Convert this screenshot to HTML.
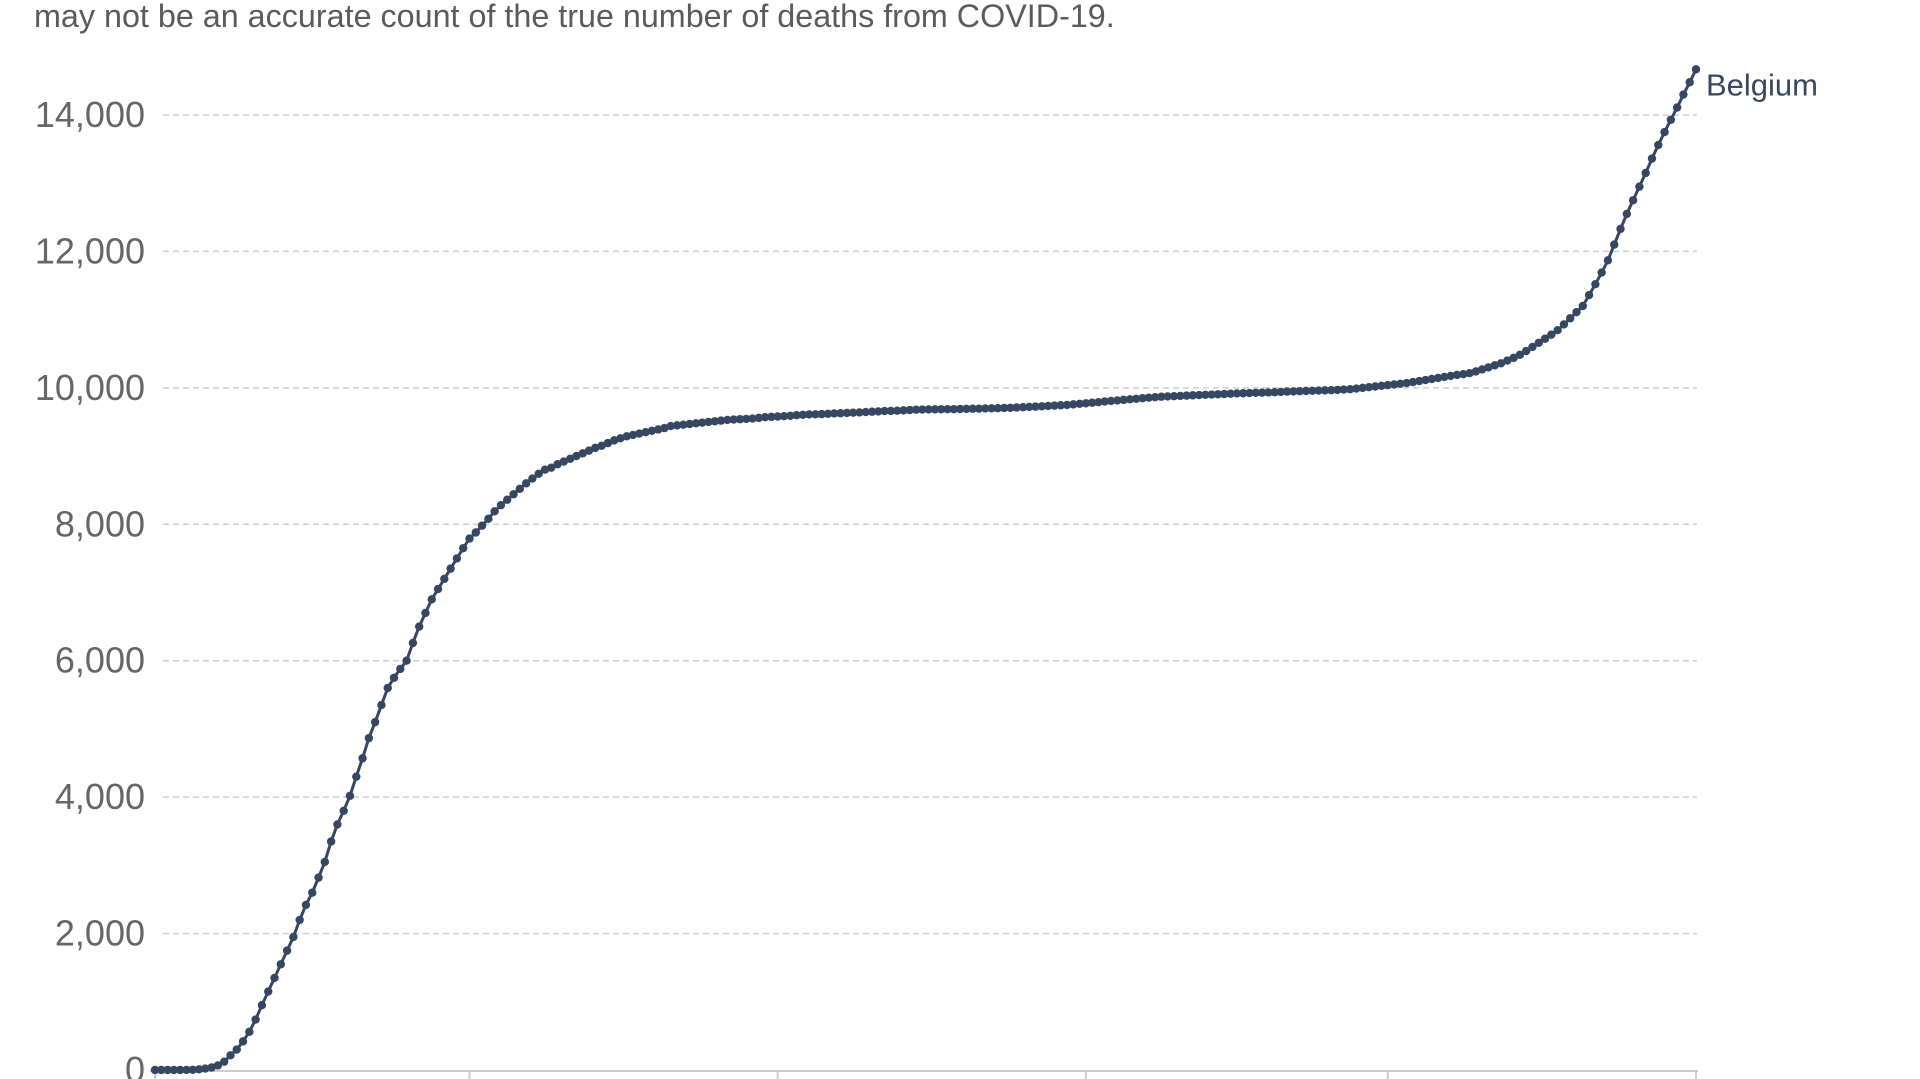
<!DOCTYPE html>
<html><head><meta charset="utf-8">
<style>
html,body{margin:0;padding:0;background:#fff;width:1920px;height:1079px;overflow:hidden}
svg{display:block}
text{font-family:"Liberation Sans",Arial,sans-serif}
</style></head>
<body>
<svg id="chart" width="1920" height="1079" viewBox="0 0 1920 1079">
<text x="34" y="27" font-size="32.3" fill="#5b5b5b">may not be an accurate count of the true number of deaths from COVID-19.</text>
<g id="grid"></g>
<g id="yticks"></g>
<g id="xaxis"></g>
<g id="series"></g>
</svg>
<script>
const yTickValues=[0,2000,4000,6000,8000,10000,12000,14000];
const yTickLabels=["0","2,000","4,000","6,000","8,000","10,000","12,000","14,000"];
const xTickDays=[0,50,99,148,196,245];
const seriesName="Belgium";
const deaths=[0,0,0,0,0,1,3,
10,21,37,67,122,215,
300,420,560,740,950,
1150,1350,1550,1750,1950,
2200,2420,2600,2820,3050,3350,3600,3800,4020,4300,4570,4865,
5100,5350,5600,5750,5880,6000,
6260,6500,6700,6900,7050,7200,7350,
7500,7650,7790,7880,7980,8080,8190,8280,
8360,8440,8520,8600,8670,8740,8800,8830,
8880,8920,8960,9000,9040,9080,9120,9150,9190,9230,
9260,9290,9310,9330,9350,9370,9390,9410,9440,
9450,9460,9470,9480,9490,9500,9510,9520,9530,9535,
9540,9545,9550,9560,9570,9575,9580,9585,9590,9600,
9605,9610,9612,9615,9620,9625,9628,9632,9636,9640,
9645,9650,9655,9660,9662,9665,9670,9675,9680,
9682,9684,9685,9686,9687,9688,9690,9692,9694,9695,
9698,9700,9702,9705,9708,9712,9716,9720,9725,9730,
9735,9740,9745,9750,9758,9766,9774,9782,9790,9800,
9808,9816,9824,9832,9840,9848,9856,9863,9870,
9874,9878,9882,9886,9890,9894,9898,9902,9906,9910,
9914,9918,9921,9924,9927,9930,9933,9936,9940,9945,
9948,9951,9954,9957,9960,9963,9966,9970,9975,9980,
9990,10000,10010,10020,10030,10040,10050,10060,10070,
10085,10100,10115,10130,10145,10160,10175,10190,10200,10215,
10240,10270,10300,10330,10360,10400,10440,10485,
10540,10600,10660,10720,10780,10845,
10930,11020,11110,11200,11360,11520,11690,11870,
12100,12330,12550,12750,12950,13150,13360,
13560,13750,13930,14110,14300,14480,14670];

const NS="http://www.w3.org/2000/svg";
const X0=155,X1=1696,Y0=1070,Y14=115;
const maxDay=deaths.length-1;
function x(d){return X0+(X1-X0)*d/maxDay;}
function y(v){return Y0-(Y0-Y14)*v/14000;}
function mk(tag,attrs,parent){const e=document.createElementNS(NS,tag);for(const k in attrs)e.setAttribute(k,attrs[k]);parent.appendChild(e);return e;}

const grid=document.getElementById('grid'),yt=document.getElementById('yticks'),xa=document.getElementById('xaxis'),ser=document.getElementById('series');
yTickValues.forEach((v,i)=>{
  if(v!==0){
    const l=mk('line',{x1:163,x2:1697,y1:y(v),y2:y(v),stroke:'#cfcfcf','stroke-width':1.5,'stroke-dasharray':'6,4'},grid);
    
    
  }
  const t=mk('text',{x:145,y:y(v)+12,'text-anchor':'end','font-size':36,fill:'#666'},yt);
  t.textContent=yTickLabels[i];
  
  
});
const ax=mk('line',{x1:150,x2:1698,y1:1071,y2:1071,stroke:'#cccccc','stroke-width':2},xa);


xTickDays.forEach(d=>{
  const tk=mk('line',{x1:x(d),x2:x(d),y1:1071,y2:1079,stroke:'#cccccc','stroke-width':2},xa);
  
  
});
const pts=deaths.map((v,i)=>x(i).toFixed(2)+','+y(v).toFixed(2)).join(' ');
const pl=mk('polyline',{points:pts,fill:'none',stroke:'#364861','stroke-width':3,'stroke-linejoin':'round'},ser);


deaths.forEach((v,i)=>{
  const c=mk('circle',{cx:x(i),cy:y(v),r:4.2,fill:'#364861'},ser);
  
  
});
const lab=mk('text',{x:1706,y:y(deaths[maxDay])+26,'font-size':31,fill:'#364861'},ser);
lab.textContent=seriesName;


</script>
</body></html>
